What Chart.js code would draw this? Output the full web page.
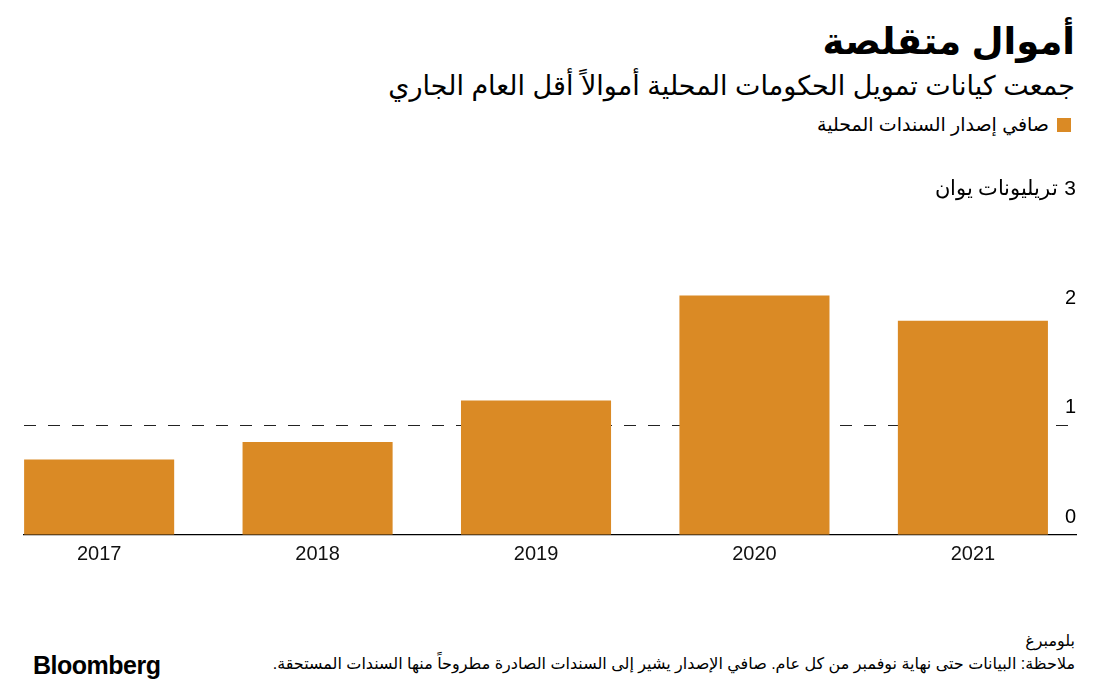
<!DOCTYPE html>
<html lang="ar">
<head>
<meta charset="utf-8">
<title>أموال متقلصة</title>
<script src="https://cdn.jsdelivr.net/npm/chart.js@4/dist/chart.umd.min.js"></script>
<style>
    body { margin: 0; background: #fff; font-family: "Liberation Sans", "DejaVu Sans", sans-serif; color: #000; }
    #page { position: relative; width: 1116px; height: 687px; overflow: hidden; }
    .rtl { position: absolute; right: 41px; direction: rtl; text-align: right; white-space: nowrap; }
    #title { top: 20px; font-size: 37px; font-weight: bold; }
    #subtitle { top: 70px; font-size: 27px; }
    #legend { top: 113px; right: 45px; font-size: 19px; }
    #legend .box { display: inline-block; width: 14px; height: 14px; background: #da8a25; vertical-align: -1px; margin-left: 8px; }
    #source { top: 631px; font-size: 16px; }
    #note { top: 654px; font-size: 16px; }
    #logo { position: absolute; left: 33px; top: 651px; font-size: 25px; font-weight: bold; letter-spacing: -0.5px; font-family: "Liberation Sans", Arial, sans-serif; }
    #chartBox { position: absolute; left: 0; top: 150px; width: 1116px; height: 430px; }
    #chart { direction: rtl; }
</style>
</head>
<body>
<div id="page">
    <div id="title" class="rtl">أموال متقلصة</div>
    <div id="subtitle" class="rtl">جمعت كيانات تمويل الحكومات المحلية أموالاً أقل العام الجاري</div>
    <div id="legend" class="rtl"><span class="box"></span>صافي إصدار السندات المحلية</div>
    <div id="chartBox"><canvas id="chart"></canvas></div>
    <div id="source" class="rtl">بلومبرغ</div>
    <div id="note" class="rtl">ملاحظة: البيانات حتى نهاية نوفمبر من كل عام. صافي الإصدار يشير إلى السندات الصادرة مطروحاً منها السندات المستحقة.</div>
    <div id="logo">Bloomberg</div>
</div>

<script>
// net local bond issuance, trillion yuan
const years = [2017, 2018, 2019, 2020, 2021];
const netIssuance = [0.69, 0.85, 1.23, 2.19, 1.96];
const yTicks = [0, 1, 2, 3];
const unitLabel = 'تريليونات يوان';

const barColor = '#da8a25';

const ctx = document.getElementById('chart');

new Chart(ctx, {
    type: 'bar',
    data: {
        datasets: [{
            label: 'صافي إصدار السندات المحلية',
            data: years.map((y, i) => ({ x: y, y: netIssuance[i] })),
            backgroundColor: barColor,
            borderWidth: 0,
            barPercentage: 0.687,
            categoryPercentage: 1
        }]
    },
    options: {
        responsive: true,
        maintainAspectRatio: false,
        animation: false,
        layout: {
            padding: { left: 24, right: 40, top: 57, bottom: 7 }
        },
        plugins: {
            legend: { display: false },
            tooltip: { enabled: false }
        },
        scales: {
            x: {
                type: 'linear',
                bounds: 'data',
                offset: false,
                min: 2016.656,
                max: 2021.472,
                // one tick per year, so labels sit under the bars
                afterBuildTicks: scale => {
                    scale.ticks = years.map(v => ({ value: v }));
                },
                grid: { display: false, drawTicks: false, offset: false },
                border: { display: true, color: '#000', width: 1.2 },
                ticks: {
                    maxRotation: 0,
                    autoSkip: false,
                    padding: 7,
                    color: '#111',
                    font: { family: 'Liberation Sans', size: 20 },
                    callback: v => String(v)
                }
            },
            y: {
                position: 'right',
                min: yTicks[0],
                max: yTicks[yTicks.length - 1],
                afterBuildTicks: scale => {
                    scale.ticks = yTicks.map(v => ({ value: v }));
                },
                grid: {
                    drawTicks: false,
                    lineWidth: 1,
                    color: c => c.tick && c.tick.value === 1 ? '#222' : 'rgba(0,0,0,0)'
                },
                border: { display: false, dash: [12, 12] },
                ticks: {
                    mirror: true,
                    padding: 0,
                    labelOffset: -18,
                    color: '#000',
                    font: c => ({ family: 'Liberation Sans', size: c.tick && c.tick.value === 3 ? 21 : 20 }),
                    callback: v => v === 3 ? v + ' ' + unitLabel : String(v)
                }
            }
        }
    }
});
</script>
</body>
</html>
